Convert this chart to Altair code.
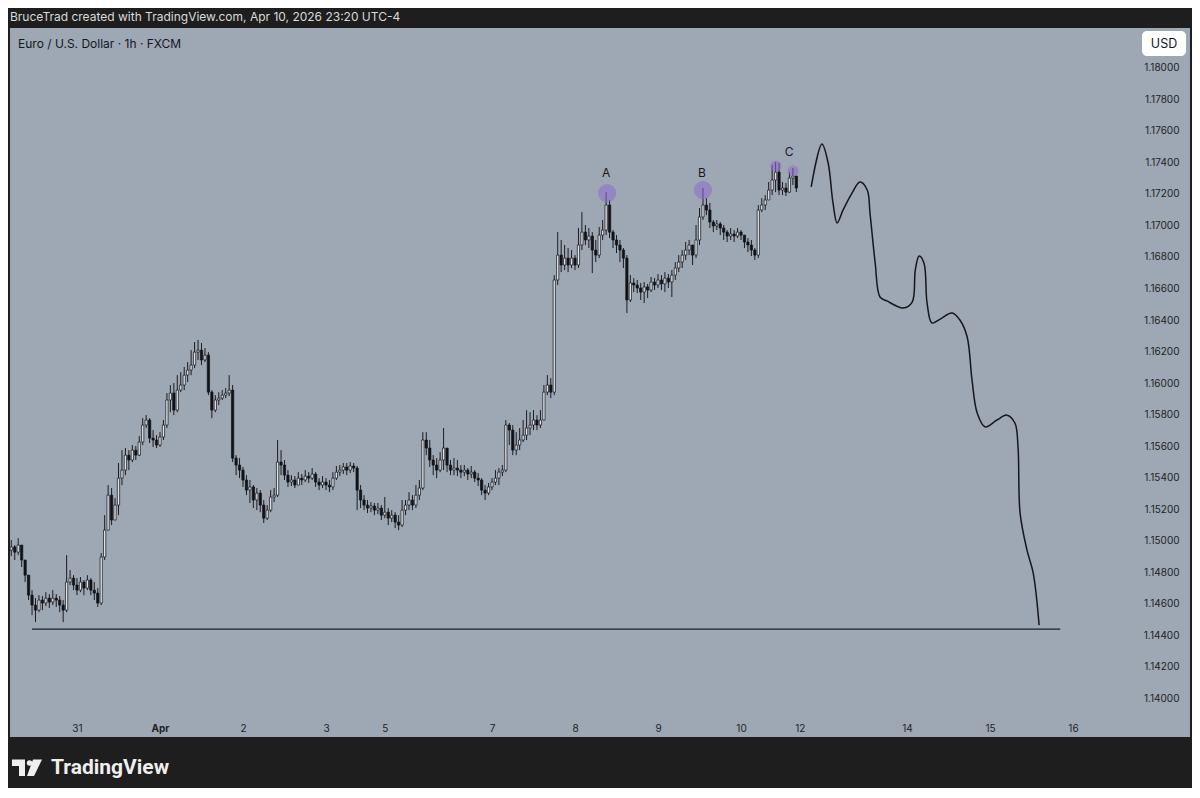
import altair as alt
import pandas as pd

# ---------------- data (EUR/USD, 1h, FXCM) ----------------
# hour index: 0 = Mar 31 00:00, trading hours only (weekend collapsed)
START_HOUR = -19
FIRST_OPEN = 1.14939

CLOSES = [
    1.14959, 1.14926, 1.14971, 1.14876, 1.14780, 1.14653, 1.14590, 1.14558, 1.14622, 1.14603,
    1.14634, 1.14609, 1.14634, 1.14622, 1.14590, 1.14558, 1.14736, 1.14761, 1.14717,
    1.14685, 1.14736, 1.14698, 1.14749, 1.14685, 1.14666, 1.14603, 1.14895, 1.15066, 1.15288,
    1.15130, 1.15225, 1.15396, 1.15447, 1.15542, 1.15511, 1.15574, 1.15542, 1.15625, 1.15733,
    1.15765, 1.15650, 1.15638, 1.15606, 1.15657, 1.15733, 1.15892, 1.15936, 1.15828, 1.15955,
    1.15987, 1.16050, 1.16082, 1.16114, 1.16196, 1.16209, 1.16146, 1.16177, 1.15942, 1.15828,
    1.15892, 1.15904, 1.15923, 1.15936, 1.15955, 1.15523, 1.15479, 1.15447, 1.15384, 1.15320,
    1.15340, 1.15257, 1.15301, 1.15225, 1.15142, 1.15193, 1.15276, 1.15288, 1.15498, 1.15479,
    1.15415, 1.15371, 1.15384, 1.15352, 1.15396, 1.15384, 1.15409, 1.15396, 1.15422, 1.15371,
    1.15352, 1.15371, 1.15352, 1.15340, 1.15396, 1.15434, 1.15447, 1.15467, 1.15447, 1.15473,
    1.15460, 1.15320, 1.15257, 1.15225, 1.15206, 1.15219, 1.15193, 1.15206, 1.15161, 1.15180,
    1.15142, 1.15161, 1.15117, 1.15098, 1.15193, 1.15225, 1.15257, 1.15225, 1.15288, 1.15333,
    1.15638, 1.15587, 1.15511, 1.15479, 1.15447, 1.15511, 1.15587, 1.15479, 1.15447, 1.15460,
    1.15447, 1.15434, 1.15447, 1.15422, 1.15434, 1.15396, 1.15384, 1.15320, 1.15301, 1.15340,
    1.15371, 1.15396, 1.15434, 1.15447, 1.15733, 1.15701, 1.15574, 1.15606, 1.15638, 1.15669,
    1.15714, 1.15733, 1.15765, 1.15733, 1.15765, 1.15942, 1.15987, 1.15942, 1.16654, 1.16812,
    1.16749, 1.16793, 1.16749, 1.16793, 1.16749, 1.16876, 1.16958, 1.16908, 1.16933, 1.16844,
    1.16812, 1.16939, 1.16971, 1.17130, 1.16958, 1.16908, 1.16876, 1.16844, 1.16793, 1.16527,
    1.16635, 1.16622, 1.16603, 1.16577, 1.16610, 1.16590, 1.16641, 1.16622, 1.16654, 1.16629,
    1.16666, 1.16641, 1.16685, 1.16730, 1.16768, 1.16812, 1.16844, 1.16876, 1.16812, 1.16908,
    1.17054, 1.17130, 1.17098, 1.17022, 1.16997, 1.17010, 1.16984, 1.16958, 1.16933, 1.16946,
    1.16933, 1.16958, 1.16939, 1.16895, 1.16876, 1.16844, 1.16812, 1.17098, 1.17130, 1.17162,
    1.17225, 1.17289, 1.17339, 1.17225, 1.17238, 1.17212, 1.17301, 1.17314, 1.17238,
]

HIGHS = [
    1.15003, 1.14971, 1.15015, 1.14952, 1.14876, 1.14780, 1.14685, 1.14634, 1.14653, 1.14647,
    1.14672, 1.14660, 1.14685, 1.14660, 1.14647, 1.14622, 1.14907, 1.14812, 1.14780,
    1.14761, 1.14768, 1.14749, 1.14780, 1.14761, 1.14736, 1.14698, 1.14920, 1.15161, 1.15352,
    1.15333, 1.15269, 1.15492, 1.15574, 1.15587, 1.15574, 1.15606, 1.15600, 1.15663, 1.15777,
    1.15796, 1.15777, 1.15701, 1.15669, 1.15688, 1.15765, 1.15936, 1.15987, 1.16000, 1.16050,
    1.16069, 1.16102, 1.16133, 1.16209, 1.16260, 1.16273, 1.16254, 1.16222, 1.16196, 1.15955,
    1.15923, 1.15942, 1.15955, 1.15968, 1.16050, 1.15987, 1.15542, 1.15523, 1.15467, 1.15415,
    1.15384, 1.15352, 1.15333, 1.15320, 1.15257, 1.15225, 1.15320, 1.15333, 1.15638, 1.15574,
    1.15511, 1.15447, 1.15415, 1.15409, 1.15434, 1.15422, 1.15447, 1.15434, 1.15460, 1.15434,
    1.15396, 1.15409, 1.15396, 1.15384, 1.15434, 1.15473, 1.15479, 1.15492, 1.15492, 1.15498,
    1.15492, 1.15473, 1.15352, 1.15288, 1.15257, 1.15244, 1.15238, 1.15238, 1.15225, 1.15276,
    1.15206, 1.15193, 1.15180, 1.15161, 1.15257, 1.15257, 1.15307, 1.15288, 1.15352, 1.15384,
    1.15688, 1.15688, 1.15638, 1.15542, 1.15523, 1.15561, 1.15714, 1.15587, 1.15511, 1.15523,
    1.15511, 1.15479, 1.15479, 1.15460, 1.15473, 1.15447, 1.15428, 1.15396, 1.15352, 1.15365,
    1.15396, 1.15447, 1.15460, 1.15479, 1.15765, 1.15746, 1.15733, 1.15688, 1.15714, 1.15765,
    1.15828, 1.15815, 1.15828, 1.15796, 1.15828, 1.15987, 1.16050, 1.16031, 1.16685, 1.16958,
    1.16908, 1.16876, 1.16857, 1.16844, 1.16812, 1.16984, 1.17085, 1.17003, 1.16984, 1.16958,
    1.16908, 1.16991, 1.17035, 1.17212, 1.17162, 1.16971, 1.16939, 1.16908, 1.16857, 1.16812,
    1.16685, 1.16666, 1.16654, 1.16635, 1.16641, 1.16629, 1.16673, 1.16666, 1.16692, 1.16685,
    1.16704, 1.16692, 1.16717, 1.16768, 1.16812, 1.16844, 1.16895, 1.16908, 1.16876, 1.17003,
    1.17111, 1.17238, 1.17174, 1.17143, 1.17035, 1.17035, 1.17022, 1.17003, 1.16971, 1.16984,
    1.16971, 1.16984, 1.16971, 1.16939, 1.16920, 1.16908, 1.16857, 1.17130, 1.17174, 1.17193,
    1.17276, 1.17384, 1.17403, 1.17397, 1.17276, 1.17270, 1.17339, 1.17365, 1.17301,
]

LOWS = [
    1.14901, 1.14876, 1.14907, 1.14832, 1.14736, 1.14622, 1.14526, 1.14482, 1.14545, 1.14558,
    1.14584, 1.14571, 1.14590, 1.14578, 1.14545, 1.14482, 1.14545, 1.14717, 1.14685,
    1.14653, 1.14672, 1.14653, 1.14685, 1.14653, 1.14622, 1.14578, 1.14590, 1.14876, 1.15066,
    1.15098, 1.15130, 1.15161, 1.15352, 1.15415, 1.15447, 1.15498, 1.15511, 1.15536, 1.15606,
    1.15714, 1.15619, 1.15594, 1.15587, 1.15594, 1.15638, 1.15714, 1.15815, 1.15796, 1.15815,
    1.15942, 1.15955, 1.16006, 1.16050, 1.16095, 1.16146, 1.16114, 1.16133, 1.15923, 1.15777,
    1.15815, 1.15860, 1.15892, 1.15904, 1.15917, 1.15498, 1.15415, 1.15396, 1.15340, 1.15288,
    1.15238, 1.15206, 1.15193, 1.15180, 1.15111, 1.15130, 1.15180, 1.15244, 1.15276, 1.15415,
    1.15384, 1.15340, 1.15346, 1.15333, 1.15359, 1.15352, 1.15371, 1.15365, 1.15384, 1.15340,
    1.15320, 1.15333, 1.15320, 1.15307, 1.15320, 1.15384, 1.15409, 1.15422, 1.15415, 1.15428,
    1.15434, 1.15193, 1.15206, 1.15193, 1.15174, 1.15180, 1.15161, 1.15168, 1.15130, 1.15142,
    1.15098, 1.15117, 1.15079, 1.15066, 1.15086, 1.15161, 1.15193, 1.15193, 1.15206, 1.15257,
    1.15320, 1.15542, 1.15467, 1.15415, 1.15396, 1.15434, 1.15447, 1.15434, 1.15415, 1.15415,
    1.15409, 1.15396, 1.15409, 1.15384, 1.15396, 1.15371, 1.15346, 1.15288, 1.15257, 1.15288,
    1.15320, 1.15352, 1.15352, 1.15409, 1.15434, 1.15606, 1.15542, 1.15542, 1.15574, 1.15625,
    1.15638, 1.15669, 1.15701, 1.15701, 1.15714, 1.15765, 1.15923, 1.15904, 1.15923, 1.16622,
    1.16704, 1.16717, 1.16704, 1.16730, 1.16717, 1.16730, 1.16844, 1.16876, 1.16857, 1.16698,
    1.16768, 1.16793, 1.16908, 1.16939, 1.16920, 1.16857, 1.16825, 1.16768, 1.16730, 1.16444,
    1.16514, 1.16577, 1.16571, 1.16527, 1.16508, 1.16539, 1.16577, 1.16590, 1.16603, 1.16590,
    1.16577, 1.16603, 1.16546, 1.16654, 1.16704, 1.16730, 1.16781, 1.16812, 1.16749, 1.16793,
    1.16876, 1.17035, 1.17066, 1.16984, 1.16958, 1.16971, 1.16939, 1.16908, 1.16895, 1.16908,
    1.16895, 1.16920, 1.16908, 1.16857, 1.16831, 1.16806, 1.16781, 1.16793, 1.17085, 1.17098,
    1.17162, 1.17193, 1.17212, 1.17193, 1.17193, 1.17187, 1.17206, 1.17257, 1.17212,
]

# x-axis day labels (hour index of each label)
TICK_HOURS = [0, 24, 48, 72, 89, 120, 144, 168, 192, 209, 240, 264, 288]
TICK_LABELS = ["31", "Apr", "2", "3", "5", "7", "8", "9", "10", "12", "14", "15", "16"]
PRICE_TICKS = [1.140, 1.142, 1.144, 1.146, 1.148, 1.150, 1.152, 1.154, 1.156, 1.158, 1.160,
               1.162, 1.164, 1.166, 1.168, 1.170, 1.172, 1.174, 1.176, 1.178, 1.180]

# hand-drawn projection path
PATH_HOURS = [212.3, 215.4, 217.2, 218.6, 219.8, 221.5, 224.1, 226.4, 228.5, 229.3, 230.8,
              232.2, 234.2, 238.9, 241.5, 242.4, 243.5, 244.9, 245.8, 247.2, 249.6, 253.0,
              255.3, 257.4, 258.8, 260.3, 262.6, 266.0, 268.9, 271.2, 272.1, 272.7, 274.7,
              276.5, 278.2]
PATH_PRICES = [1.17245, 1.17518, 1.17397, 1.17143, 1.17016, 1.17098, 1.17206, 1.17276, 1.17225,
               1.17079, 1.16762, 1.16546, 1.16521, 1.16476, 1.16514, 1.16717, 1.16806, 1.16762,
               1.16508, 1.16381, 1.16406, 1.16444, 1.16400, 1.16292, 1.16019, 1.15809, 1.15721,
               1.15765, 1.15796, 1.15746, 1.15594, 1.15174, 1.14939, 1.14793, 1.14463]

# horizontal support level
LEVEL_PRICE = 1.14438
LEVEL_FROM = -13.0
LEVEL_TO = 284.3

# highlighted highs
MARK_HOURS = [153.3, 181.0, 202.1, 207.05]
MARK_PRICES = [1.17206, 1.17225, 1.17378, 1.17346]
MARK_KIND = ["major", "major", "minor", "minor"]
LABEL_TEXT = ["A", "B", "C"]
LABEL_HOURS = [153.0, 180.7, 205.9]
LABEL_PRICES = [1.17333, 1.17333, 1.17466]

# ---------------- build tables ----------------
hours = list(range(START_HOUR, START_HOUR + len(CLOSES)))
opens = [FIRST_OPEN] + CLOSES[:-1]
candles = pd.DataFrame({"h": hours, "open": opens, "close": CLOSES, "high": HIGHS, "low": LOWS})
candles["high"] = candles[["high", "open", "close"]].max(axis=1)
candles["low"] = candles[["low", "open", "close"]].min(axis=1)
candles["dir"] = ["up" if c >= o else "down" for o, c in zip(candles["open"], candles["close"])]
candles["x0"] = candles["h"] - 0.33
candles["x1"] = candles["h"] + 0.33

path = pd.DataFrame({"i": range(len(PATH_HOURS)), "h": PATH_HOURS, "p": PATH_PRICES})
level = pd.DataFrame({"x0": [LEVEL_FROM], "x1": [LEVEL_TO], "p": [LEVEL_PRICE]})
marks = pd.DataFrame({"h": MARK_HOURS, "p": MARK_PRICES, "kind": MARK_KIND})
labels = pd.DataFrame({"h": LABEL_HOURS, "p": LABEL_PRICES, "t": LABEL_TEXT})

# ---------------- styling ----------------
FONT = "Inter"
PANEL = "#9ea7b4"
FRAME = "#1e1e1e"

W, H = 1180, 709
XS = alt.Scale(domain=[-19.373, 321.83], nice=False, zero=False)
YS = alt.Scale(domain=[1.137525, 1.182539], nice=False, zero=False)

label_js = "[" + ",".join("'%s'" % t for t in TICK_LABELS) + "]"
hour_js = "[" + ",".join(str(v) for v in TICK_HOURS) + "]"
XAX = alt.Axis(
    values=TICK_HOURS, labelExpr=f"{label_js}[indexof({hour_js}, datum.value)]",
    title=None, grid=False, domain=False, ticks=False, tickSize=0, labelPadding=0,
    offset=-9, labelBaseline="middle", labelFontSize=10, labelColor="#1c1f27",
    labelFont=FONT, labelOverlap=False, labelFlush=False, labelBound=False,
    labelFontWeight={"condition": {"test": "datum.value == 24", "value": "bold"}, "value": "normal"},
)
YAX = alt.Axis(
    values=PRICE_TICKS, format=".5f", orient="right", title=None, grid=False, domain=False,
    ticks=False, tickSize=0, labelPadding=0, offset=-11, labelAlign="right",
    labelBaseline="middle", labelFontSize=10, labelColor="#1c1f27", labelFont=FONT,
    labelOverlap=False, labelFlush=False, labelBound=False,
)

wicks = alt.Chart(candles).mark_rule(color="#1b1d22", strokeWidth=1).encode(
    x=alt.X("h:Q", scale=XS, axis=XAX),
    y=alt.Y("low:Q", scale=YS, axis=YAX),
    y2="high:Q",
)
bodies = alt.Chart(candles).mark_bar(stroke="#111318", strokeWidth=0.7).encode(
    x=alt.X("x0:Q", scale=XS, axis=XAX),
    x2="x1:Q",
    y=alt.Y("open:Q", scale=YS, axis=YAX),
    y2="close:Q",
    fill=alt.Fill("dir:N", scale=alt.Scale(domain=["up", "down"], range=["#dfe2e7", "#111318"]), legend=None),
)
level_line = alt.Chart(level).mark_rule(color="#1a1e28", strokeWidth=1.3).encode(
    x=alt.X("x0:Q", scale=XS, axis=XAX), x2="x1:Q",
    y=alt.Y("p:Q", scale=YS, axis=YAX),
)
proj = alt.Chart(path).mark_line(color="#15171c", strokeWidth=1.5, interpolate="catmull-rom").encode(
    x=alt.X("h:Q", scale=XS, axis=XAX),
    y=alt.Y("p:Q", scale=YS, axis=YAX),
    order="i:Q",
)
circles = alt.Chart(marks).mark_circle(color="#8a6cd0", opacity=0.55).encode(
    x=alt.X("h:Q", scale=XS, axis=XAX),
    y=alt.Y("p:Q", scale=YS, axis=YAX),
    size=alt.Size("kind:N", scale=alt.Scale(domain=["major", "minor"], range=[330, 120]), legend=None),
)
letters = alt.Chart(labels).mark_text(font=FONT, fontSize=12, color="#17191e", baseline="middle").encode(
    x=alt.X("h:Q", scale=XS, axis=XAX),
    y=alt.Y("p:Q", scale=YS, axis=YAX),
    text="t:N",
)

one = alt.Data(values=[{"k": 1}])
header = alt.Chart(one).mark_text(
    text="BruceTrad created with TradingView.com, Apr 10, 2026 23:20 UTC-4",
    font=FONT, fontSize=12, color="#dadada", align="left", baseline="middle",
).encode(x=alt.value(0), y=alt.value(-11))
title = alt.Chart(one).mark_text(
    text="Euro / U.S. Dollar · 1h · FXCM",
    font=FONT, fontSize=12, color="#14171f", align="left", baseline="middle",
).encode(x=alt.value(8), y=alt.value(16))
usd_box = alt.Chart(one).mark_rect(fill="#ffffff", cornerRadius=5).encode(
    x=alt.value(1132), x2=alt.value(1176), y=alt.value(3), y2=alt.value(28)
)
usd_text = alt.Chart(one).mark_text(
    text="USD", font=FONT, fontSize=12.5, color="#14171f", align="center", baseline="middle"
).encode(x=alt.value(1154), y=alt.value(16))

LOGO_T = "M -0.94 -0.5 L -0.125 -0.5 L -0.125 0.53 L -0.5 0.53 L -0.5 -0.094 L -0.94 -0.094 Z"
LOGO_SLASH = "M 0.375 -0.5 L 0.94 -0.5 L 0.44 0.53 L 0.0 0.53 Z"
logo_t = alt.Chart(one).mark_point(shape=LOGO_T, filled=True, size=1024, color="#efefef", opacity=1).encode(
    x=alt.value(17), y=alt.value(739.5))
logo_s = alt.Chart(one).mark_point(shape=LOGO_SLASH, filled=True, size=1024, color="#efefef", opacity=1).encode(
    x=alt.value(17), y=alt.value(739.5))
logo_dot = alt.Chart(one).mark_circle(size=30, color="#efefef", opacity=1).encode(
    x=alt.value(19.5), y=alt.value(735))
logo_text = alt.Chart(one).mark_text(
    text="TradingView", font="Roboto", fontSize=21, fontWeight="bold", color="#efefef",
    align="left", baseline="middle",
).encode(x=alt.value(41), y=alt.value(740))

chart = alt.layer(
    wicks, bodies, level_line, proj, circles, letters,
    header, title, usd_box, usd_text, logo_t, logo_s, logo_dot, logo_text,
).properties(
    width=W, height=H,
    padding={"left": 2, "top": 20, "right": 2, "bottom": 51},
    autosize=alt.AutoSizeParams(type="none"),
    background=FRAME,
).configure_view(fill=PANEL, strokeWidth=0)

chart.save("out.html", embed_options={"renderer": "svg", "actions": False})
